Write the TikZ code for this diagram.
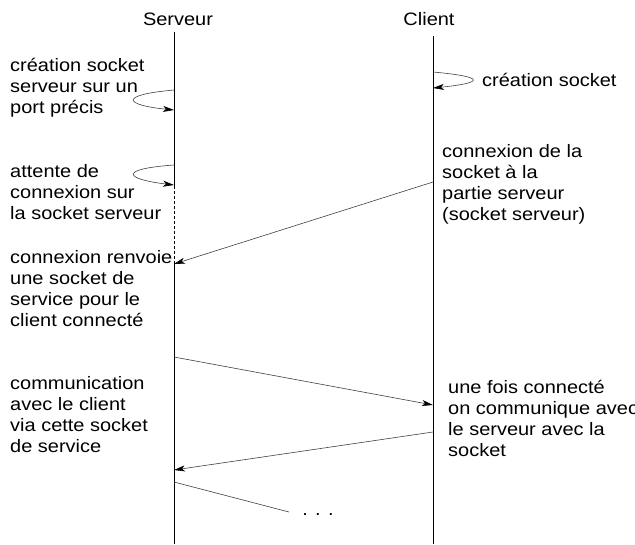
\documentclass[tikz,border=0pt]{standalone}
\usepackage{fontspec}
\setmainfont{Liberation Sans}[FakeStretch=1.11]
\usetikzlibrary{arrows.meta}
\begin{document}
\begin{tikzpicture}[x=1pt,y=-1pt,
  lifeline/.style={line width=0.8pt,black},
  msg/.style={line width=0.6pt,black!75,-{Stealth[length=11pt,width=6pt,inset=3pt,black]}},
  plain/.style={line width=0.6pt,black!75},
  note/.style={anchor=base west,inner sep=0pt,align=left,font=\fontsize{18}{21}\selectfont},
  head/.style={anchor=base,inner sep=0pt,font=\fontsize{18}{21}\selectfont}]
\useasboundingbox (0,0) rectangle (635,544);

% lifeline headings
\node[head] (srv) at (178,25) {Serveur};
\node[head] (cli) at (429,25) {Client};

% points on the server lifeline
\coordinate (s0) at (174,32);
\coordinate (sw0) at (174,186);
\coordinate (sw1) at (174,264);
\coordinate (sb) at (174,544);
\coordinate (sl1a) at (174,90);
\coordinate (sl1b) at (174,110);
\coordinate (sl2a) at (174,165);
\coordinate (sl2b) at (174,185);
\coordinate (sm1) at (174,357);
\coordinate (sm2) at (174,470);
\coordinate (sm3) at (174,482);

% points on the client lifeline
\coordinate (c0) at (433,36);
\coordinate (cb) at (433,544);
\coordinate (cl1a) at (433,72);
\coordinate (cl1b) at (433,88);
\coordinate (cm0) at (433,182);
\coordinate (cm1) at (433,405);
\coordinate (cm2) at (433,432);
\coordinate (tail) at (289,512);

% lifelines
\draw[lifeline] (s0) -- (sw0);
\draw[lifeline,dash pattern=on 3pt off 2pt,line width=0.6pt] (sw0) -- (sw1);
\draw[lifeline] (sw1) -- (sb);
\draw[lifeline] (c0) -- (cb);

% self-loops
\draw[msg] (sl1a) .. controls +(-56,5) and +(-50,-5) .. (sl1b);
\draw[msg] (sl2a) .. controls +(-56,4) and +(-50,-6) .. (sl2b);
\draw[msg] (cl1a) .. controls +(55,5) and +(50,-5) .. (cl1b);

% messages
\draw[msg] (cm0) -- (sw1);
\draw[msg] (sm1) -- (cm1);
\draw[msg] (cm2) -- (sm2);
\draw[plain] (sm3) -- (tail);
\node[head] (dots) at (318,515) {. . .};

% notes, server side (placed by the baseline of their last line)
\node[note] (n1) at (10,113) {création socket\\serveur sur un\\port précis};
\node[note] (n2) at (10,219) {attente de\\connexion sur\\la socket serveur};
\node[note] (n3) at (10,326) {connexion renvoie\\une socket de\\service pour le\\client connecté};
\node[note] (n4) at (10,452) {communication\\avec le client\\via cette socket\\de service};

% notes, client side
\node[note] (m1) at (482,86) {création socket};
\node[note] (m2) at (442,220) {connexion de la\\socket à la\\partie serveur\\(socket serveur)};
\node[note] (m3) at (448,456) {une fois connecté\\on communique avec\\le serveur avec la\\socket};
\end{tikzpicture}
\end{document}
